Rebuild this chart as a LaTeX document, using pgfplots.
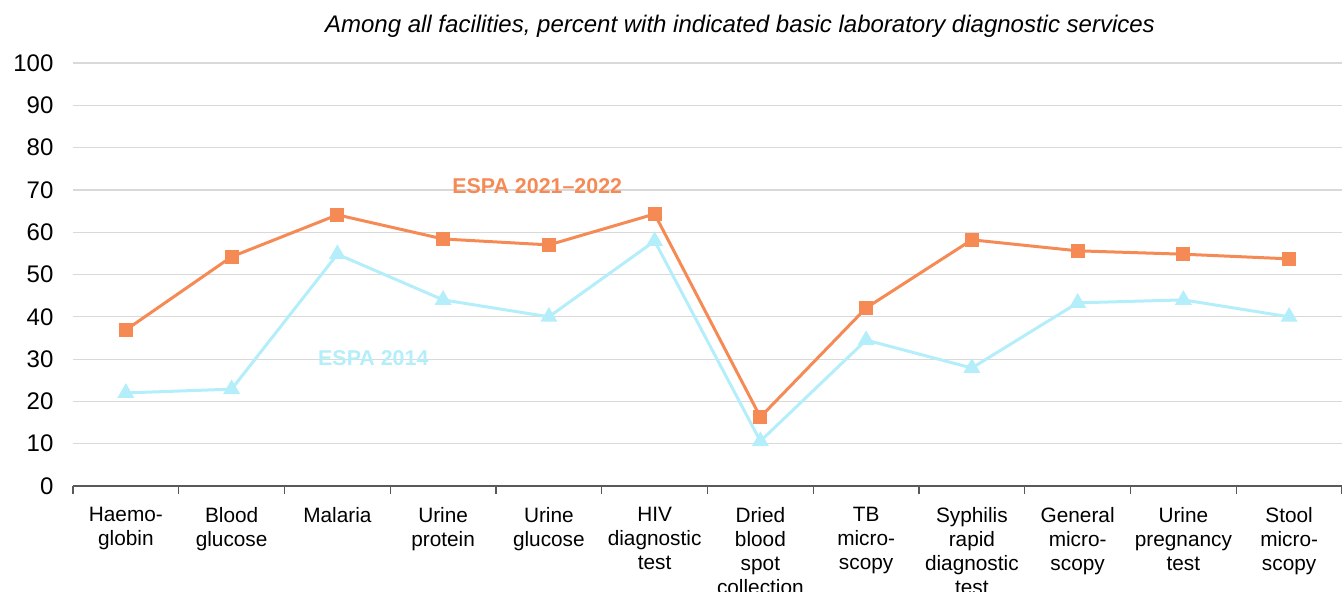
\documentclass[border=0pt]{standalone}
\usepackage{pgfplots}
\pgfplotsset{compat=1.18}
\usepackage{fontspec}
\setmainfont{Liberation Sans}
\definecolor{orangeS}{HTML}{F58A55}
\definecolor{cyanS}{HTML}{B3EEFA}
\definecolor{gridc}{HTML}{D9D9D9}
\definecolor{axc}{HTML}{595959}
\begin{document}
\begin{tikzpicture}
\path[use as bounding box] (-36.5pt,-52.5pt) rectangle (634.5pt,243pt);
\begin{axis}[
  at={(0,0)}, anchor=south west,
  scale only axis,
  width=634.5pt, height=211.5pt,
  xmin=-0.5, xmax=11.5, ymin=0, ymax=100,
  axis x line*=bottom,
  axis y line*=left,
  y axis line style={draw=none},
  x axis line style={draw=axc, line width=0.6pt},
  ytick={0,10,...,100},
  ymajorgrids, grid style={gridc, line width=0.6pt},
  major y tick style={draw=none},
  xtick={0,...,11},
  major x tick style={draw=none},
  minor xtick={-0.5,0.5,...,11.5},
  minor x tick style={draw=axc, line width=0.6pt},
  minor tick length=4pt,
  tick align=outside,
  /pgf/number format/assume math mode=true,
  yticklabel style={font=\fontsize{12}{14}\selectfont, text=black, xshift=-2pt},
  xticklabel style={font=\fontsize{10.4}{12}\selectfont, text=black, align=center, text width=55pt, anchor=north, yshift=-3pt},
  xticklabels={{Haemo-\\globin},{Blood\\glucose},{Malaria},{Urine\\protein},{Urine\\glucose},{HIV\\diagnostic\\test},{Dried\\blood\\spot\\collection},{TB\\micro-\\scopy},{Syphilis\\rapid\\diagnostic\\test},{General\\micro-\\scopy},{Urine\\pregnancy\\test},{Stool\\micro-\\scopy}},
  clip=false,
]
\addplot[cyanS, line width=1.5pt, mark=triangle*, mark size=3.4pt, mark options={solid}] coordinates {
 (0,22.0) (1,22.9) (2,54.8) (3,44.0) (4,40.0) (5,57.9) (6,10.6) (7,34.5) (8,27.9) (9,43.3) (10,44.0) (11,40.0)};
\addplot[orangeS, line width=1.5pt, mark=square*, mark size=2.8pt, mark options={solid}] coordinates {
 (0,36.9) (1,54.2) (2,64.1) (3,58.4) (4,57.0) (5,64.3) (6,16.3) (7,42.1) (8,58.2) (9,55.6) (10,54.8) (11,53.7)};
\node[font=\bfseries\fontsize{10.7}{12}\selectfont, text=orangeS] at (axis cs:3.89,70.9) {ESPA 2021–2022};
\node[font=\bfseries\fontsize{10.7}{12}\selectfont, text=cyanS] at (axis cs:2.34,30.3) {ESPA 2014};
\end{axis}
\node[font=\itshape\fontsize{12}{14}\selectfont] at (333.5pt,230pt) {Among all facilities, percent with indicated basic laboratory diagnostic services};
\end{tikzpicture}
\end{document}
